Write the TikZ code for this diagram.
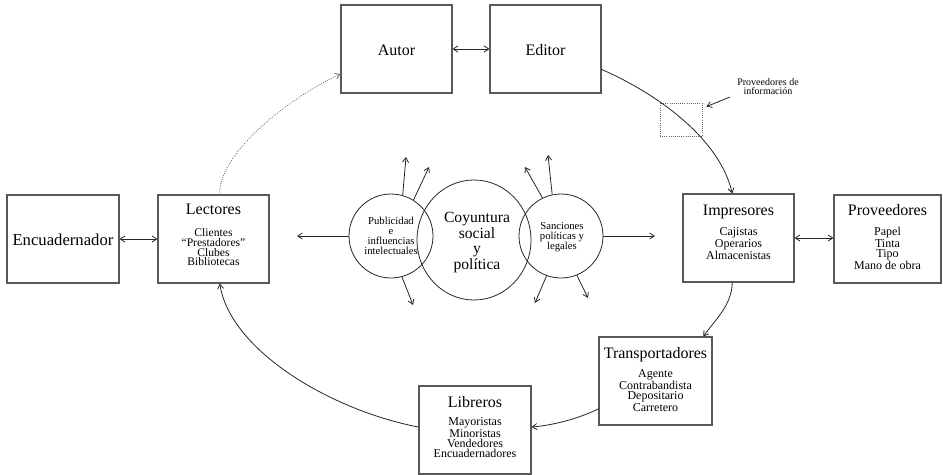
\documentclass[tikz,border=0pt]{standalone}
\usepackage{fontspec}
\setmainfont{Liberation Serif}
\usetikzlibrary{arrows.meta,shapes.geometric}
\definecolor{boxc}{gray}{0.35}
\definecolor{linec}{gray}{0.15}
\begin{document}
\begin{tikzpicture}[x=0.75pt,y=-0.75pt,
  box/.style={draw=boxc,line width=0.8pt,minimum width=#1*0.75pt,minimum height=66pt,inner sep=0pt},
  box/.default=111,
  ttl/.style={font=\fontsize{12}{14}\selectfont,anchor=base,inner sep=0pt},
  itm/.style={font=\fontsize{9}{7.6}\selectfont,align=center,anchor=north,inner sep=0pt},
  ring/.style={draw=linec,line width=0.6pt,circle,minimum size=63pt,inner sep=0pt},
  conn/.style={draw=linec,line width=0.6pt,-{Straight Barb[length=3.5pt,width=4.5pt]}},
  both/.style={draw=linec,line width=0.6pt,{Straight Barb[length=3.5pt,width=4.5pt]}-{Straight Barb[length=3.5pt,width=4.5pt]}},
  dotconn/.style={draw=linec!70,line width=0.6pt,densely dotted,-{Straight Barb[length=3.5pt,width=4.5pt]}}
]
\useasboundingbox (0,0) rectangle (943,475);

% boxes
\node[box=112] (enc) at (63,239) {};
\node[ttl,font=\fontsize{12.5}{14}\selectfont] (encT) at (63,245) {Encuadernador};

\node[box=111] (lec) at (213.5,239) {};
\node[ttl] (lecT) at (213.5,214) {Lectores};
\node[itm,font=\fontsize{8.7}{7.4}\selectfont] (lecI) at (213.5,228) {Clientes\\“Prestadores”\\Clubes\\Bibliotecas};

\node[box=111] (aut) at (396.5,49) {};
\node[ttl] (autT) at (396.5,55) {Autor};

\node[box=111] (edi) at (545.5,49) {};
\node[ttl] (ediT) at (545.5,55) {Editor};

\node[box=111] (imp) at (738.5,238) {};
\node[ttl] (impT) at (738.5,215) {Impresores};
\node[itm] (impI) at (738.5,227) {Cajistas\\Operarios\\Almacenistas};

\node[box=107] (pro) at (887.5,239) {};
\node[ttl] (proT) at (887.5,215) {Proveedores};
\node[itm] (proI) at (887.5,227) {Papel\\Tinta\\Tipo\\Mano de obra};

\node[box=113] (tra) at (655.5,381) {};
\node[ttl] (traT) at (655.5,358) {Transportadores};
\node[itm] (traI) at (655.5,369) {Agente\\Contrabandista\\Depositario\\Carretero};

\node[box=112] (lib) at (475,430) {};
\node[ttl] (libT) at (475,407) {Libreros};
\node[itm] (libI) at (475,417) {Mayoristas\\Minoristas\\Vendedores\\Encuadernadores};

% dotted box and its label
\node[draw=linec!70,densely dotted,line width=0.6pt,minimum width=31.5pt,minimum height=24.75pt,inner sep=0pt] (dbox) at (681,119.5) {};
\node[font=\fontsize{7.5}{7}\selectfont,align=center,anchor=north,inner sep=0pt] (lbl) at (768,78) {Proveedores de\\información};
\coordinate (lblA) at (730,97);
\draw[conn] (lblA) -- ([shift={(4,-2)}]dbox.27);

% circles
\node[ring] (cl) at (391,236) {};
\node[ring] (cr) at (561,236) {};
\node[draw=linec,line width=0.6pt,ellipse,minimum width=85.5pt,minimum height=90pt,inner sep=0pt] (cc) at (474,240) {};
\node[font=\fontsize{11.7}{11.6}\selectfont,align=center,anchor=north,inner sep=0pt] (ccT) at (477,212) {Coyuntura\\social\\y\\política};
\node[font=\fontsize{8}{7.5}\selectfont,align=center,anchor=north,inner sep=0pt] (clT) at (391,217) {Publicidad\\e\\influencias\\intelectuales};
\node[font=\fontsize{8}{7.5}\selectfont,align=center,anchor=north,inner sep=0pt] (crT) at (562,222) {Sanciones\\políticas y\\legales};

% free arrow ends
\coordinate (l1) at (406,157);
\coordinate (l2) at (429,167);
\coordinate (l3) at (413,305);
\coordinate (lw) at (297,236);
\coordinate (r1) at (525,167);
\coordinate (r2) at (548,155);
\coordinate (r3) at (535,303);
\coordinate (r4) at (588,298);
\coordinate (re) at (655,236);

\draw[conn] (cl.74) -- (l1);
\draw[conn] (cl.58) -- (l2);
\draw[conn] (cl.-75) -- (l3);
\draw[conn] (cl.west) -- (lw);
\draw[conn] (cr.116) -- (r1);
\draw[conn] (cr.102) -- (r2);
\draw[conn] (cr.-110) -- (r3);
\draw[conn] (cr.-68) -- (r4);
\draw[conn] (cr.east) -- (re);

% straight two-way connectors
\draw[both] (enc.east) -- (lec.west);
\draw[both] (aut.east) -- (edi.west);
\draw[both] (imp.east) -- (imp.east -| pro.west);

% curved connectors
\draw[conn] (edi.-20.7) .. controls (660,95) and (720,140) .. (imp.98);
\draw[conn] (imp.-98) .. controls (732,305) and (715,320) .. (tra.43);
\draw[conn] (tra.206) .. controls (580,418) and (555,425) .. (lib.3);
\draw[conn] (lib.177) .. controls (330,410) and (230,350) .. (lec.-82);
\draw[dotconn] (lec.82) .. controls (218,155) and (285,100) .. (aut.204);
\end{tikzpicture}
\end{document}
